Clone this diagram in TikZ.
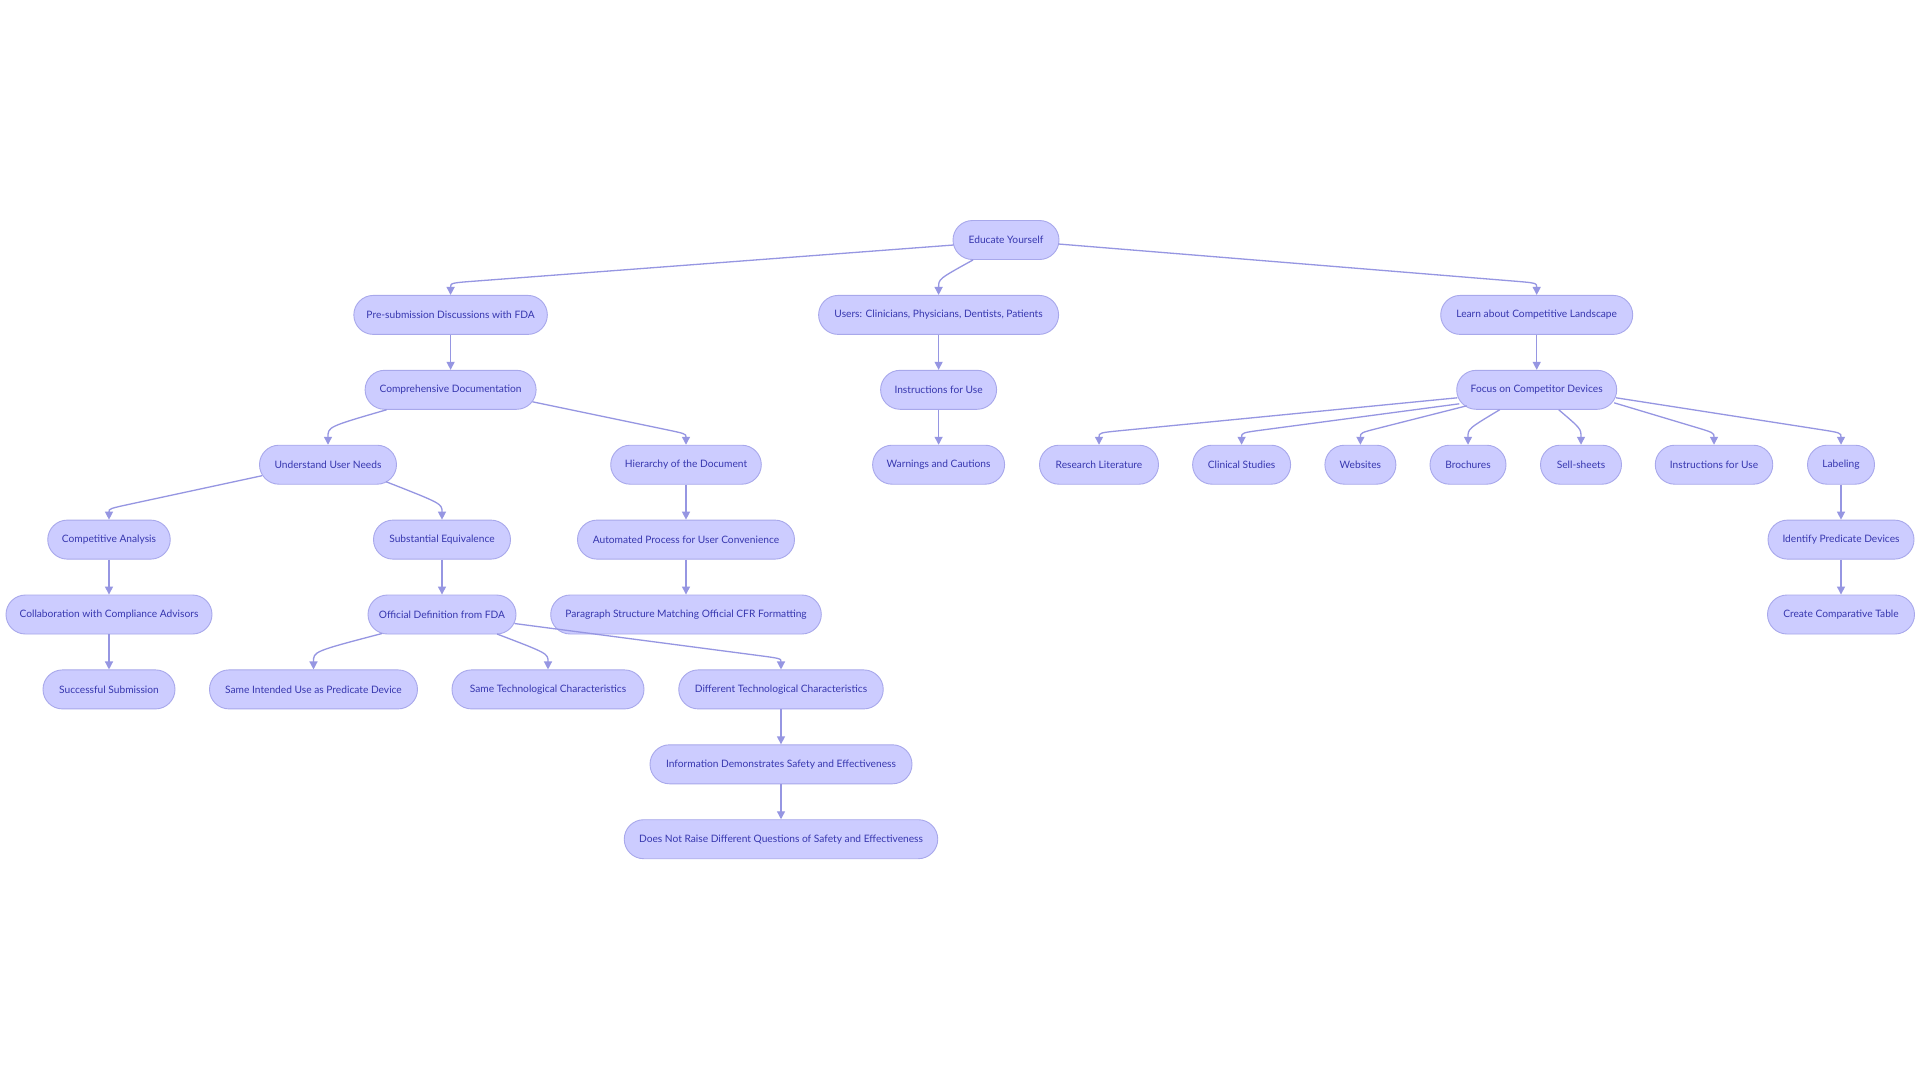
\documentclass[tikz,border=0pt]{standalone}
\usepackage{fontspec}
\setmainfont{Lato}
\usetikzlibrary{calc,arrows.meta}
\definecolor{nfill}{RGB}{204,204,255}
\definecolor{ndraw}{RGB}{168,168,235}
\definecolor{ntext}{RGB}{55,55,175}
\definecolor{ecol}{RGB}{150,150,226}
\newcommand\cedge[4]{%
  \path (#1) coordinate (ss);
  \path (#2.north) ++(0,-#3) coordinate (cc);
  \draw[edge] (ss) -- ($(cc)!#4!(ss)$) .. controls (cc) .. (#2.north);}
\newcommand\qedge[3]{%
  \path (#1) coordinate (ss);
  \path (#2.north) ++(0,-#3) coordinate (cc);
  \draw[edge] (ss) .. controls (cc) .. (#2.north);}
\begin{document}
\begin{tikzpicture}[x=1pt,y=-1pt,
  box/.style={draw=ndraw, fill=nfill, line width=0.9pt, rounded corners=19.5pt,
    minimum height=39pt, inner xsep=3pt, inner ysep=0pt, text=ntext,
    font=\fontsize{10.2}{12}\selectfont},
  edge/.style={draw=ecol, line width=1.3pt, -{Triangle[length=8pt,width=8pt]}}]
\path[use as bounding box, fill=white] (0,0) rectangle (1920,1080);
% row 0
\node[box,minimum width=106pt] (edu) at (1006,240) {Educate Yourself};
% row 1
\node[box,minimum width=193.5pt] (pre) at (450.6,314.9) {Pre-submission Discussions with FDA};
\node[box,minimum width=240pt] (users) at (938.6,314.9) {Users: Clinicians, Physicians, Dentists, Patients};
\node[box,minimum width=192pt] (learn) at (1536.7,314.9) {Learn about Competitive Landscape};
% row 2
\node[box,minimum width=171pt] (comp) at (450.6,389.8) {Comprehensive Documentation};
\node[box,minimum width=116pt] (ifu) at (938.6,389.8) {Instructions for Use};
\node[box,minimum width=160pt] (focus) at (1536.7,389.8) {Focus on Competitor Devices};
% row 3
\node[box,minimum width=137pt] (under) at (328,464.7) {Understand User Needs};
\node[box,minimum width=150.6pt] (hier) at (686,464.7) {Hierarchy of the Document};
\node[box,minimum width=132pt] (warn) at (938.6,464.7) {Warnings and Cautions};
\node[box,minimum width=119pt] (res) at (1099,464.7) {Research Literature};
\node[box,minimum width=98pt] (clin) at (1241.6,464.7) {Clinical Studies};
\node[box,minimum width=71pt] (web) at (1360.4,464.7) {Websites};
\node[box,minimum width=76pt] (broch) at (1468,464.7) {Brochures};
\node[box,minimum width=81pt] (sell) at (1581,464.7) {Sell-sheets};
\node[box,minimum width=117.5pt] (ifutwo) at (1714,464.7) {Instructions for Use};
\node[box,minimum width=67pt] (lab) at (1841,464.7) {Labeling};
% row 4
\node[box,minimum width=122.5pt] (compa) at (109,539.6) {Competitive Analysis};
\node[box,minimum width=137pt] (subst) at (442,539.6) {Substantial Equivalence};
\node[box,minimum width=217pt] (auto) at (686,539.6) {Automated Process for User Convenience};
\node[box,minimum width=146pt] (ident) at (1841,539.6) {Identify Predicate Devices};
% row 5
\node[box,minimum width=206pt] (collab) at (109,614.5) {Collaboration with Compliance Advisors};
\node[box,minimum width=148pt] (off) at (442,614.5) {Official Definition from FDA};
\node[box,minimum width=270.6pt] (para) at (686,614.5) {Paragraph Structure Matching Official CFR Formatting};
\node[box,minimum width=147pt] (table) at (1841,614.5) {Create Comparative Table};
% row 6
\node[box,minimum width=132pt] (succ) at (109,689.4) {Successful Submission};
\node[box,minimum width=208pt] (samei) at (313.5,689.4) {Same Intended Use as Predicate Device};
\node[box,minimum width=192pt] (samet) at (548,689.4) {Same Technological Characteristics};
\node[box,minimum width=204.5pt] (diff) at (781,689.4) {Different Technological Characteristics};
% row 7, 8
\node[box,minimum width=262pt] (info) at (781,764.3) {Information Demonstrates Safety and Effectiveness};
\node[box,minimum width=313.5pt] (dnr) at (781,839.2) {Does Not Raise Different Questions of Safety and Effectiveness};
% edges
\cedge{$(edu.west)+(1,5)$}{pre}{12}{26pt}
\qedge{$(edu.south)+(-33,0)$}{users}{16}
\cedge{$(edu.east)+(-1,4)$}{learn}{12}{26pt}
\draw[edge] (pre) -- (comp);
\qedge{$(comp.south)+(-64,0)$}{under}{18}
\cedge{$(comp.east)+(-4,12)$}{hier}{11}{24pt}
\cedge{$(under.west)+(3,11)$}{compa}{11}{24pt}
\qedge{$(under.center)+(58,17)$}{subst}{16}
\draw[edge] (compa) -- (collab);
\draw[edge] (collab) -- (succ);
\draw[edge] (subst) -- (off);
\qedge{$(off.center)+(-60,19)$}{samei}{18}
\qedge{$(off.center)+(55,19.5)$}{samet}{16}
\cedge{$(off.east)+(-2,9)$}{diff}{11}{26pt}
\draw[edge] (hier) -- (auto);
\draw[edge] (auto) -- (para);
\draw[edge] (diff) -- (info);
\draw[edge] (info) -- (dnr);
\draw[edge] (users) -- (ifu);
\draw[edge] (ifu) -- (warn);
\draw[edge] (learn) -- (focus);
\cedge{$(focus.west)+(1,8)$}{res}{12}{24pt}
\cedge{$(focus.west)+(3,14)$}{clin}{12}{24pt}
\cedge{$(focus.center)+(-70,16)$}{web}{12}{20pt}
\qedge{$(focus.south)+(-37,0)$}{broch}{16}
\qedge{$(focus.south)+(22,0)$}{sell}{16}
\cedge{$(focus.east)+(-3,13)$}{ifutwo}{12}{22pt}
\cedge{$(focus.east)+(-1,8)$}{lab}{12}{24pt}
\draw[edge] (lab) -- (ident);
\draw[edge] (ident) -- (table);
\end{tikzpicture}
\end{document}
